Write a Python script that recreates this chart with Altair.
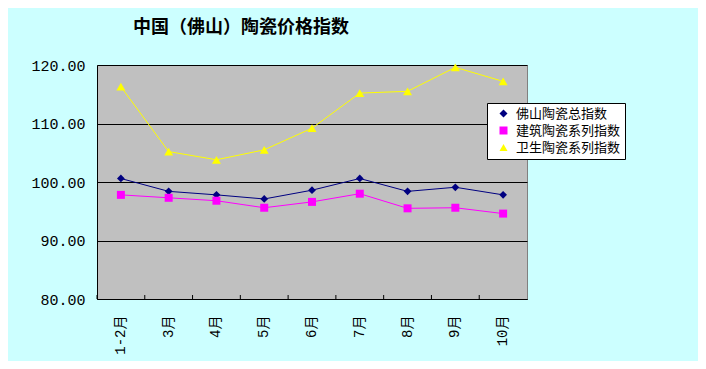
import altair as alt
import pandas as pd

months = ["1-2月", "3月", "4月", "5月", "6月", "7月", "8月", "9月", "10月"]
series = ["佛山陶瓷总指数", "建筑陶瓷系列指数", "卫生陶瓷系列指数"]
total = [100.6, 98.4, 97.8, 97.1, 98.6, 100.6, 98.4, 99.1, 97.8]
building = [97.8, 97.3, 96.8, 95.6, 96.6, 98.0, 95.5, 95.6, 94.6]
sanitary = [116.3, 105.2, 103.8, 105.5, 109.2, 115.2, 115.5, 119.6, 117.2]
colors = ["#000080", "#FF00FF", "#FFFF00"]
shapes = ["diamond", "square", "triangle-up"]
y_ticks = [80, 90, 100, 110, 120]
title_text = "中国（佛山）陶瓷价格指数"

rows = []
for name, vals in zip(series, [total, building, sanitary]):
    for m, v in zip(months, vals):
        rows.append({"月份": m, "系列": name, "图例": name, "指数": v})
df = pd.DataFrame(rows)
mdf = pd.DataFrame({"月份": months})

xscale = alt.Scale(type="band", domain=months, paddingInner=0, paddingOuter=0)
yscale = alt.Scale(domain=[80, 120], nice=False, zero=False)

x_main = alt.X("月份:N", sort=months, scale=xscale, bandPosition=0.5,
               axis=alt.Axis(title=None, labelAngle=-90, labelAlign="right",
                             labelBaseline="middle", labelPadding=16, ticks=False,
                             labelFont="'Liberation Mono', 'Noto Sans CJK SC'", labelFontSize=14,
                             labelColor="#000000", domainColor="#000000", grid=False))
y_main = alt.Y("指数:Q", scale=yscale,
               axis=alt.Axis(title=None, values=y_ticks, format=".2f", ticks=False,
                             labelPadding=12, labelFont="Liberation Mono", labelFontSize=15,
                             labelColor="#000000", domainColor="#000000",
                             grid=True, gridColor="#000000", gridWidth=1, gridOpacity=1))
x_plain = alt.X("月份:N", sort=months, scale=xscale, bandPosition=0.5)
y_plain = alt.Y("指数:Q", scale=yscale)

base = alt.Chart(df)

leg_marks = alt.Legend(title=None, orient="none", legendX=390, legendY=38, padding=4,
                       fillColor="#FFFFFF", strokeColor="#000000",
                       labelFont="Noto Sans CJK SC", labelFontSize=13, labelColor="#000000",
                       symbolSize=64, symbolStrokeWidth=0, symbolOffset=6,
                       rowPadding=3, labelOffset=6)

lines = base.mark_line(strokeWidth=1).encode(
    x=x_main, y=y_main,
    color=alt.Color("系列:N", scale=alt.Scale(domain=series, range=colors), legend=None),
    detail="系列:N",
)

sizes = [60, 64, 80]
point_layers = []
for name, col, shp, sz in zip(series, colors, shapes, sizes):
    point_layers.append(
        base.transform_filter(alt.datum["系列"] == name)
        .mark_point(filled=True, shape=shp, size=sz, color=col, opacity=1)
        .encode(x=x_plain, y=y_plain)
    )

ticks = alt.Chart(mdf).mark_rule(color="#000000", strokeWidth=1).encode(
    x=alt.X("月份:N", sort=months, scale=xscale, bandPosition=0),
    y=alt.value(234), y2=alt.value(230),
)

legend_marks_layer = base.transform_filter("false").mark_point(filled=True, opacity=1).encode(
    x=x_plain, y=y_plain,
    shape=alt.Shape("图例:N", scale=alt.Scale(domain=series, range=shapes), legend=leg_marks),
    fill=alt.Fill("图例:N", scale=alt.Scale(domain=series, range=colors), legend=leg_marks),
)

chart = alt.layer(legend_marks_layer, lines, *point_layers, ticks).properties(
    width=430, height=234,
    title=alt.TitleParams(title_text, anchor="start", frame="group", dx=36, offset=21,
                          fontSize=18, font="Noto Sans CJK SC", fontWeight="bold",
                          color="#000000"),
    background="#CCFFFF",
    autosize=alt.AutoSizeParams(type="none"),
    padding={"left": 89, "top": 57, "right": 171, "bottom": 62},
).configure_view(fill="#C0C0C0", stroke="#808080", strokeWidth=1)

chart.save("out.html", embed_options={"renderer": "svg", "actions": False})
